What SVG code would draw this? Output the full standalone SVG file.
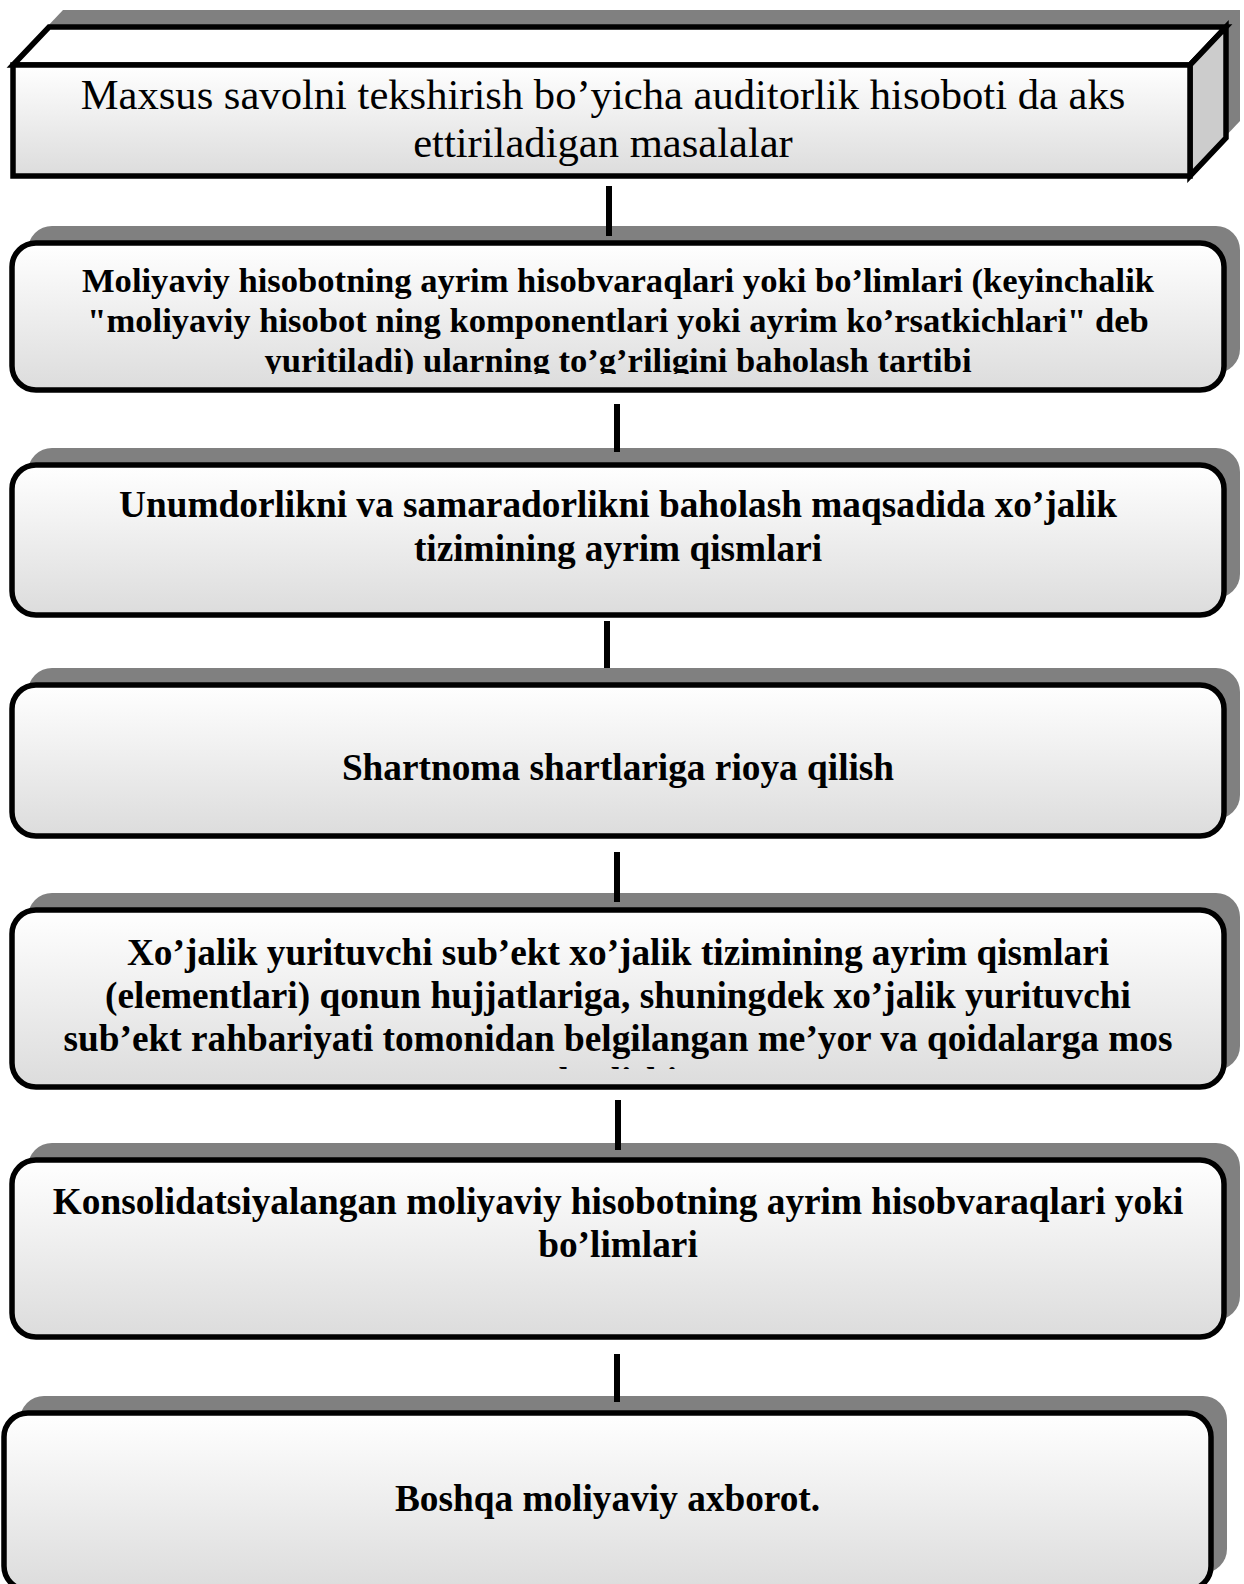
<svg xmlns="http://www.w3.org/2000/svg" width="1244" height="1584" viewBox="0 0 1244 1584">
<defs>
<linearGradient id="g" x1="0" y1="0" x2="0" y2="1">
<stop offset="0" stop-color="#ffffff"/>
<stop offset="1" stop-color="#dcdcdc"/>
</linearGradient>
<clipPath id="c2"><rect x="15" y="246" width="1206" height="128"/></clipPath>
<clipPath id="c5"><rect x="15" y="913" width="1206" height="156"/></clipPath>
</defs>
<style>
.sh{fill:#808080}
.bx{fill:url(#g);stroke:#000;stroke-width:5.5}
.t{font-family:"Liberation Serif","Times New Roman",serif;font-weight:bold;font-size:37.3px;fill:#000;text-anchor:middle}
.t2{font-size:34.6px}
.t1{font-family:"Liberation Serif","Times New Roman",serif;font-size:42.6px;fill:#000;text-anchor:middle}
.cn{stroke:#000;stroke-width:6;fill:none}
</style>
<g id="node1">
<path class="sh" d="M27,48 L63,10 L1240,10 L1240,121 L1204,159 L27,159 Z"/>
<path d="M13,65 L49,27 L1226,27 L1190,65 Z" fill="#ffffff" stroke="#000" stroke-width="5.5" stroke-linejoin="miter"/>
<path d="M1190,65 L1226,27 L1226,138 L1190,176 Z" fill="#cccccc" stroke="#000" stroke-width="5.5"/>
<rect x="13" y="65" width="1177" height="111" fill="url(#g)" stroke="#000" stroke-width="5.5"/>
<text class="t1" x="603" y="109">Maxsus savolni tekshirish bo’yicha auditorlik hisoboti da aks</text>
<text class="t1" x="603" y="157">ettiriladigan masalalar</text>
</g>
<g id="node2">
<rect class="sh" x="28" y="226" width="1212" height="147" rx="24"/>
<rect class="bx" x="12" y="243" width="1212" height="147" rx="24"/>
<g clip-path="url(#c2)">
<text class="t t2" x="618" y="292">Moliyaviy hisobotning ayrim hisobvaraqlari yoki bo’limlari (keyinchalik</text>
<text class="t t2" x="618" y="332">"moliyaviy hisobot ning komponentlari yoki ayrim ko’rsatkichlari" deb</text>
<text class="t t2" x="618" y="372">yuritiladi) ularning to’g’riligini baholash tartibi</text>
</g>
</g>
<g id="node3">
<rect class="sh" x="28" y="448" width="1212" height="150" rx="24"/>
<rect class="bx" x="12" y="465" width="1212" height="150" rx="24"/>
<text class="t" x="618" y="517">Unumdorlikni va samaradorlikni baholash maqsadida xo’jalik</text>
<text class="t" x="618" y="561">tizimining ayrim qismlari</text>
</g>
<g id="node4">
<rect class="sh" x="28" y="668" width="1212" height="151" rx="24"/>
<rect class="bx" x="12" y="685" width="1212" height="151" rx="24"/>
<text class="t" x="618" y="780">Shartnoma shartlariga rioya qilish</text>
</g>
<g id="node5">
<rect class="sh" x="28" y="893" width="1212" height="177" rx="24"/>
<rect class="bx" x="12" y="910" width="1212" height="177" rx="24"/>
<g clip-path="url(#c5)">
<text class="t" x="618" y="965">Xo’jalik yurituvchi sub’ekt xo’jalik tizimining ayrim qismlari</text>
<text class="t" x="618" y="1008">(elementlari) qonun hujjatlariga, shuningdek xo’jalik yurituvchi</text>
<text class="t" x="618" y="1051">sub’ekt rahbariyati tomonidan belgilangan me’yor va qoidalarga mos</text>
<text class="t" x="618" y="1094">bo’lishi</text>
</g>
</g>
<g id="node6">
<rect class="sh" x="28" y="1143" width="1212" height="177" rx="24"/>
<rect class="bx" x="12" y="1160" width="1212" height="177" rx="24"/>
<text class="t" x="618" y="1214">Konsolidatsiyalangan moliyaviy hisobotning ayrim hisobvaraqlari yoki</text>
<text class="t" x="618" y="1257">bo’limlari</text>
</g>
<g id="node7">
<rect class="sh" x="20" y="1396" width="1207" height="177" rx="24"/>
<rect class="bx" x="4" y="1413" width="1207" height="177" rx="24"/>
<text class="t" x="607.5" y="1511">Boshqa moliyaviy axborot.</text>
</g>
<g id="connectors">
<line class="cn" x1="609" y1="186" x2="609" y2="236"/>
<line class="cn" x1="617" y1="404" x2="617" y2="452"/>
<line class="cn" x1="607" y1="621" x2="607" y2="668"/>
<line class="cn" x1="617" y1="852" x2="617" y2="902"/>
<line class="cn" x1="618" y1="1100" x2="618" y2="1150"/>
<line class="cn" x1="617" y1="1354" x2="617" y2="1402"/>
</g>
</svg>
